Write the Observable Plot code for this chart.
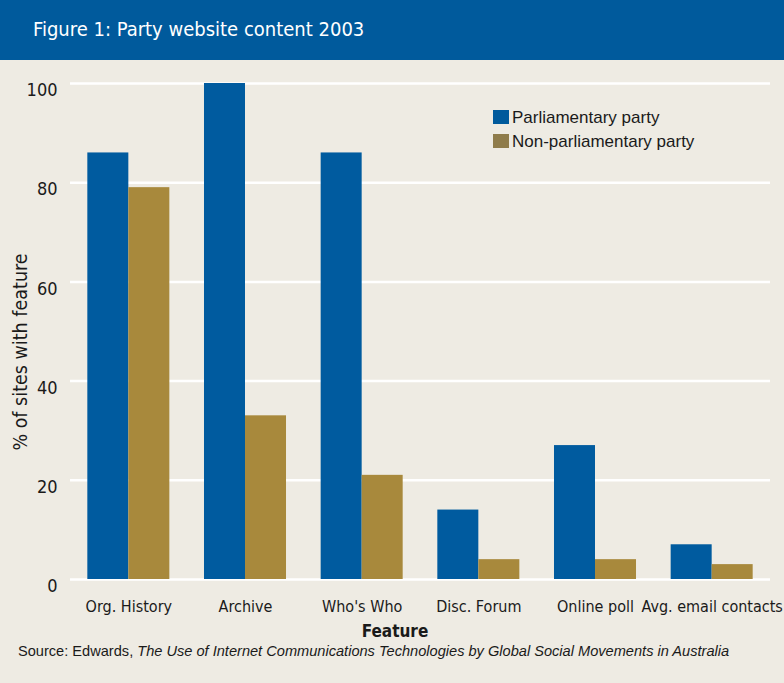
<!DOCTYPE html>
<html><head><meta charset="utf-8">
<script src="https://cdn.jsdelivr.net/npm/d3@7"></script>
<script src="https://cdn.jsdelivr.net/npm/@observablehq/plot@0.6"></script>
<style>
body{margin:0;background:#fff;}
#wrap{position:relative;width:784px;height:683px;background:#EEEBE3;overflow:hidden;font-family:"DejaVu Sans Condensed","Liberation Sans Narrow",sans-serif;color:#1a1a1a;}
#banner{position:absolute;left:0;top:0;width:784px;height:60px;background:#005A9C;}
#title{position:absolute;left:33px;top:17px;color:#fff;font-size:20px;white-space:nowrap;}
#chart{position:absolute;left:0;top:60px;}
.leg{position:absolute;left:493px;font-family:"Liberation Sans",Arial,sans-serif;font-size:17px;white-space:nowrap;}
.leg span{display:inline-block;width:16px;height:14px;vertical-align:-1px;margin-right:3px;}
#ylab{position:absolute;left:20px;top:352px;transform:translate(-50%,-50%) rotate(-90deg);font-size:19.5px;white-space:nowrap;}
#xlab{position:absolute;left:395px;top:631px;transform:translate(-50%,-50%);font-size:17px;font-weight:bold;}
#source{position:absolute;left:18px;top:643px;font-family:"Liberation Sans",Arial,sans-serif;font-size:14.6px;white-space:nowrap;}
</style>
</head><body>
<div id="wrap">
  <div id="banner"><div id="title">Figure 1: Party website content 2003</div></div>
  <div id="chart"></div>
  <div class="leg" style="top:108px"><span style="background:#005A9C"></span>Parliamentary party</div>
  <div class="leg" style="top:132px"><span style="background:#8F7C4B"></span>Non-parliamentary party</div>
  <div id="ylab">% of sites with feature</div>
  <div id="xlab">Feature</div>
  <div id="source">Source: Edwards, <i>The Use of Internet Communications Technologies by Global Social Movements in Australia</i></div>
</div>
<script>
const features = ["Org. History", "Archive", "Who's Who", "Disc. Forum", "Online poll", "Avg. email contacts"];
const parliamentary = [86, 100, 86, 14, 27, 7];
const nonParliamentary = [79, 33, 21, 4, 4, 3];
const yTicks = [0, 20, 40, 60, 80, 100];

const data = features.map((f, i) => ({feature: f, parl: parliamentary[i], nonparl: nonParliamentary[i]}));

const W = 784, mL = 70, mR = 14;
const padIn = 0.297, padOut = 0.1485;
const step = (W - mL - mR) / (features.length - padIn + 2 * padOut);
const half = step * (1 - padIn) / 2;

const chart = Plot.plot({
  width: W,
  height: 560,
  marginLeft: mL,
  marginRight: mR,
  marginTop: 23,
  marginBottom: 41,
  style: {background: "transparent", fontFamily: "'DejaVu Sans Condensed','Liberation Sans Narrow',sans-serif", color: "#1a1a1a"},
  x: {domain: features, paddingInner: padIn, paddingOuter: padOut, round: false, label: null, tickSize: 0, tickPadding: 20},
  y: {domain: [0, 100], ticks: yTicks, label: null, tickSize: 0, tickPadding: 13},
  marks: [
    Plot.ruleY(yTicks, {stroke: "white", strokeWidth: 2.5}),
    Plot.barY(data, {x: "feature", y: "parl", fill: "#005B9F", insetRight: half}),
    Plot.barY(data, {x: "feature", y: "nonparl", fill: "#A8893C", insetLeft: half}),
    Plot.axisX({tickSize: 0, tickPadding: 21, fontSize: 16, label: null}),
    Plot.axisY({ticks: yTicks, tickSize: 0, tickPadding: 13, fontSize: 18, dy: 7, label: null})
  ]
});
document.getElementById("chart").appendChild(chart);
</script>
</body></html>
